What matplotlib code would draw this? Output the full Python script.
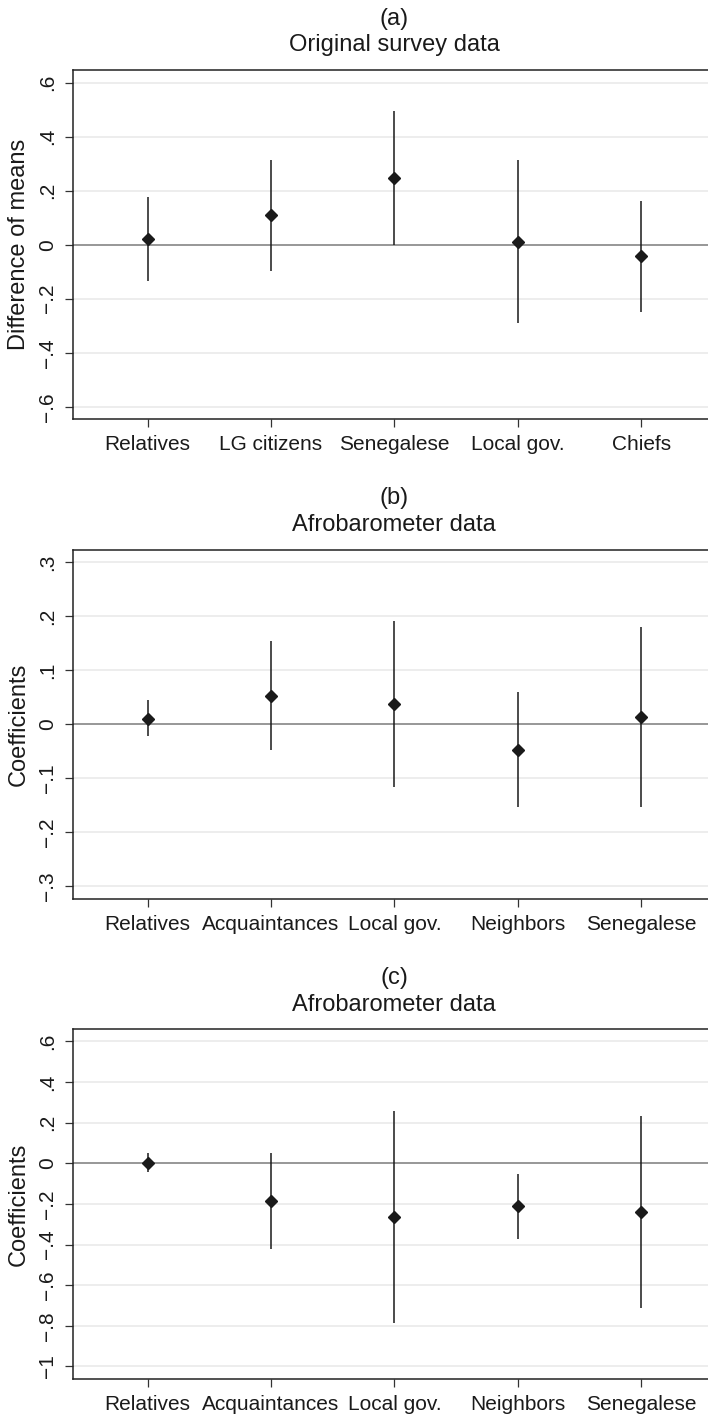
import numpy as np
import matplotlib
matplotlib.use('Agg')
import matplotlib.pyplot as plt

plt.rcParams['font.family'] = ['Liberation Sans', 'DejaVu Sans']

# panel (a): original survey data
cats_a = ['Relatives', 'LG citizens', 'Senegalese', 'Local gov.', 'Chiefs']
est_a = [0.022, 0.109, 0.246, 0.010, -0.043]
lo_a = [-0.135, -0.096, 0.000, -0.291, -0.248]
hi_a = [0.178, 0.314, 0.495, 0.312, 0.162]
ticks_a = [-0.6, -0.4, -0.2, 0, 0.2, 0.4, 0.6]

# panel (b): afrobarometer
cats_b = ['Relatives', 'Acquaintances', 'Local gov.', 'Neighbors', 'Senegalese']
est_b = [0.0105, 0.052, 0.038, -0.047, 0.013]
lo_b = [-0.022, -0.048, -0.116, -0.153, -0.154]
hi_b = [0.044, 0.154, 0.191, 0.059, 0.180]
ticks_b = [-0.3, -0.2, -0.1, 0, 0.1, 0.2, 0.3]

# panel (c): afrobarometer
cats_c = ['Relatives', 'Acquaintances', 'Local gov.', 'Neighbors', 'Senegalese']
est_c = [0.003, -0.186, -0.266, -0.212, -0.240]
lo_c = [-0.044, -0.420, -0.788, -0.371, -0.713]
hi_c = [0.049, 0.049, 0.258, -0.053, 0.233]
ticks_c = [-1.0, -0.8, -0.6, -0.4, -0.2, 0, 0.2, 0.4, 0.6]

W, H = 708, 1415
DARK = '#1a1a1a'


def stata_lab(v):
    if abs(v) < 1e-9:
        return '0'
    s = f'{abs(v):g}'
    if s.startswith('0'):
        s = s[1:]
    return ('\u2212' if v < 0 else '') + s


def panel(fig, top_px, letter, title, ylabel, cats, est, lo, hi, ticks, ylim):
    left, right = 73, 715.7
    bot_px = top_px + 349.4
    ax = fig.add_axes([left / W, 1 - bot_px / H, (right - left) / W, (bot_px - top_px) / H])
    x = np.arange(1, len(cats) + 1)

    # light grid, darker zero line
    for t in ticks:
        if t != 0:
            ax.axhline(t, color='#e8e8e8', lw=1.1, zorder=0)
    ax.axhline(0, color='#858585', lw=1.2, zorder=1)

    ax.vlines(x, lo, hi, color=DARK, lw=1.1, zorder=2)
    ax.plot(x, est, linestyle='none', marker='D', ms=6.2, color=DARK, zorder=3)

    ax.set_xlim(0.395, 5.605)
    ax.set_ylim(*ylim)
    ax.set_xticks(x)
    ax.set_xticklabels(cats, fontsize=15, color=DARK)
    ax.set_yticks(ticks)
    ax.set_yticklabels([stata_lab(t) for t in ticks], fontsize=15, color=DARK,
                       rotation=90, va='center')
    ax.tick_params(direction='out', length=5.5, width=0.9, color='#333333', pad=6)
    ax.set_ylabel(ylabel, fontsize=17, color=DARK, labelpad=6)
    for s in ax.spines.values():
        s.set_color('#222222')
        s.set_linewidth(1.1)

    cx = (left + right) / 2 / W
    fig.text(cx, 1 - (top_px - 51.5) / H, letter, fontsize=17, color=DARK,
             ha='center', va='center')
    fig.text(cx, 1 - (top_px - 24.5) / H, title, fontsize=17, color=DARK,
             ha='center', va='center')
    return ax


fig = plt.figure(figsize=(W / 100, H / 100), dpi=100)

panel(fig, 70, '(a)', 'Original survey data', 'Difference of means',
      cats_a, est_a, lo_a, hi_a, ticks_a, (-0.647, 0.647))
panel(fig, 549.5, '(b)', 'Afrobarometer data', 'Coefficients',
      cats_b, est_b, lo_b, hi_b, ticks_b, (-0.3235, 0.3235))
panel(fig, 1029.3, '(c)', 'Afrobarometer data', 'Coefficients',
      cats_c, est_c, lo_c, hi_c, ticks_c, (-1.061, 0.66))

fig.savefig('out.png', dpi=100)
plt.close(fig)
